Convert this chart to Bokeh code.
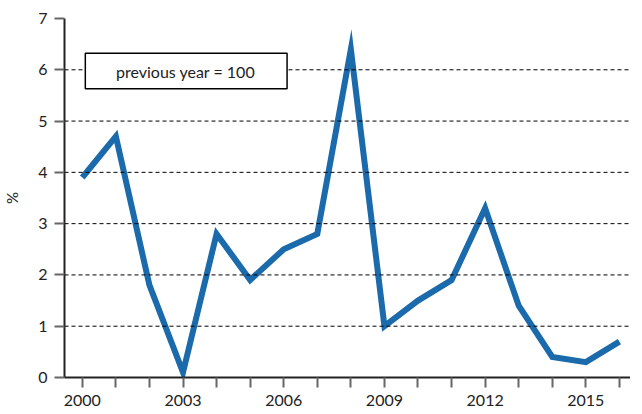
from bokeh.plotting import figure
from bokeh.models import FixedTicker, Span, BoxAnnotation, Label, Range1d
from bokeh.embed import file_html
from bokeh.resources import INLINE

years = list(range(2000, 2017))
values = [3.9, 4.7, 1.8, 0.1, 2.8, 1.9, 2.5, 2.8, 6.4, 1.0, 1.5, 1.9, 3.3, 1.4, 0.4, 0.3, 0.7]
y_ticks = [0, 1, 2, 3, 4, 5, 6, 7]
x_label_years = [2000, 2003, 2006, 2009, 2012, 2015]
note_text = "previous year = 100"
y_title = "%"

FONT = "Lato"
TXT = "#222222"

p = figure(width=630, height=408, output_backend="svg", toolbar_location=None,
           x_range=Range1d(1999.47, 2016.33), y_range=Range1d(0, 7),
           min_border_left=55, min_border_top=18, min_border_bottom=31, min_border_right=0)
p.outline_line_color = None
p.background_fill_color = "white"

p.xgrid.grid_line_color = None
p.ygrid.grid_line_color = None
for t in y_ticks[1:-1]:
    p.add_layout(Span(location=t, dimension="width", line_color="black",
                      line_dash="4 3", line_width=1))

p.line(years, values, line_color="#1b6bac", line_width=6, line_join="miter")

# axes
p.xaxis.ticker = FixedTicker(ticks=years)
p.xaxis.major_label_overrides = {y: (str(y) if y in x_label_years else "") for y in years}
p.yaxis.ticker = FixedTicker(ticks=y_ticks)
for ax in (p.xaxis[0], p.yaxis[0]):
    ax.axis_line_color = "#222222"
    ax.axis_line_width = 2
    ax.major_tick_line_color = "#666666"
    ax.major_tick_line_width = 2
    ax.major_tick_out = 10
    ax.major_tick_in = 0
    ax.minor_tick_line_color = None
    ax.major_label_text_font = FONT
    ax.major_label_text_font_size = "16px"
    ax.major_label_text_color = TXT
p.xaxis.major_label_standoff = 7
p.yaxis.major_label_standoff = 7
p.yaxis.axis_label = y_title
p.yaxis.axis_label_text_font = FONT
p.yaxis.axis_label_text_font_style = "normal"
p.yaxis.axis_label_text_font_size = "15px"
p.yaxis.axis_label_text_color = TXT
p.yaxis.axis_label_standoff = 14

# note box
p.add_layout(BoxAnnotation(left=2000.09, right=2006.1, bottom=5.63, top=6.32,
                           fill_color="white", fill_alpha=1.0,
                           line_color="black", line_alpha=1.0, line_width=1.5))
p.add_layout(Label(x=2003.08, y=5.975, text=note_text, text_align="center",
                   text_baseline="middle", text_font=FONT, text_font_size="16px",
                   text_color=TXT))

open("out.html", "w").write(file_html(p, INLINE))
